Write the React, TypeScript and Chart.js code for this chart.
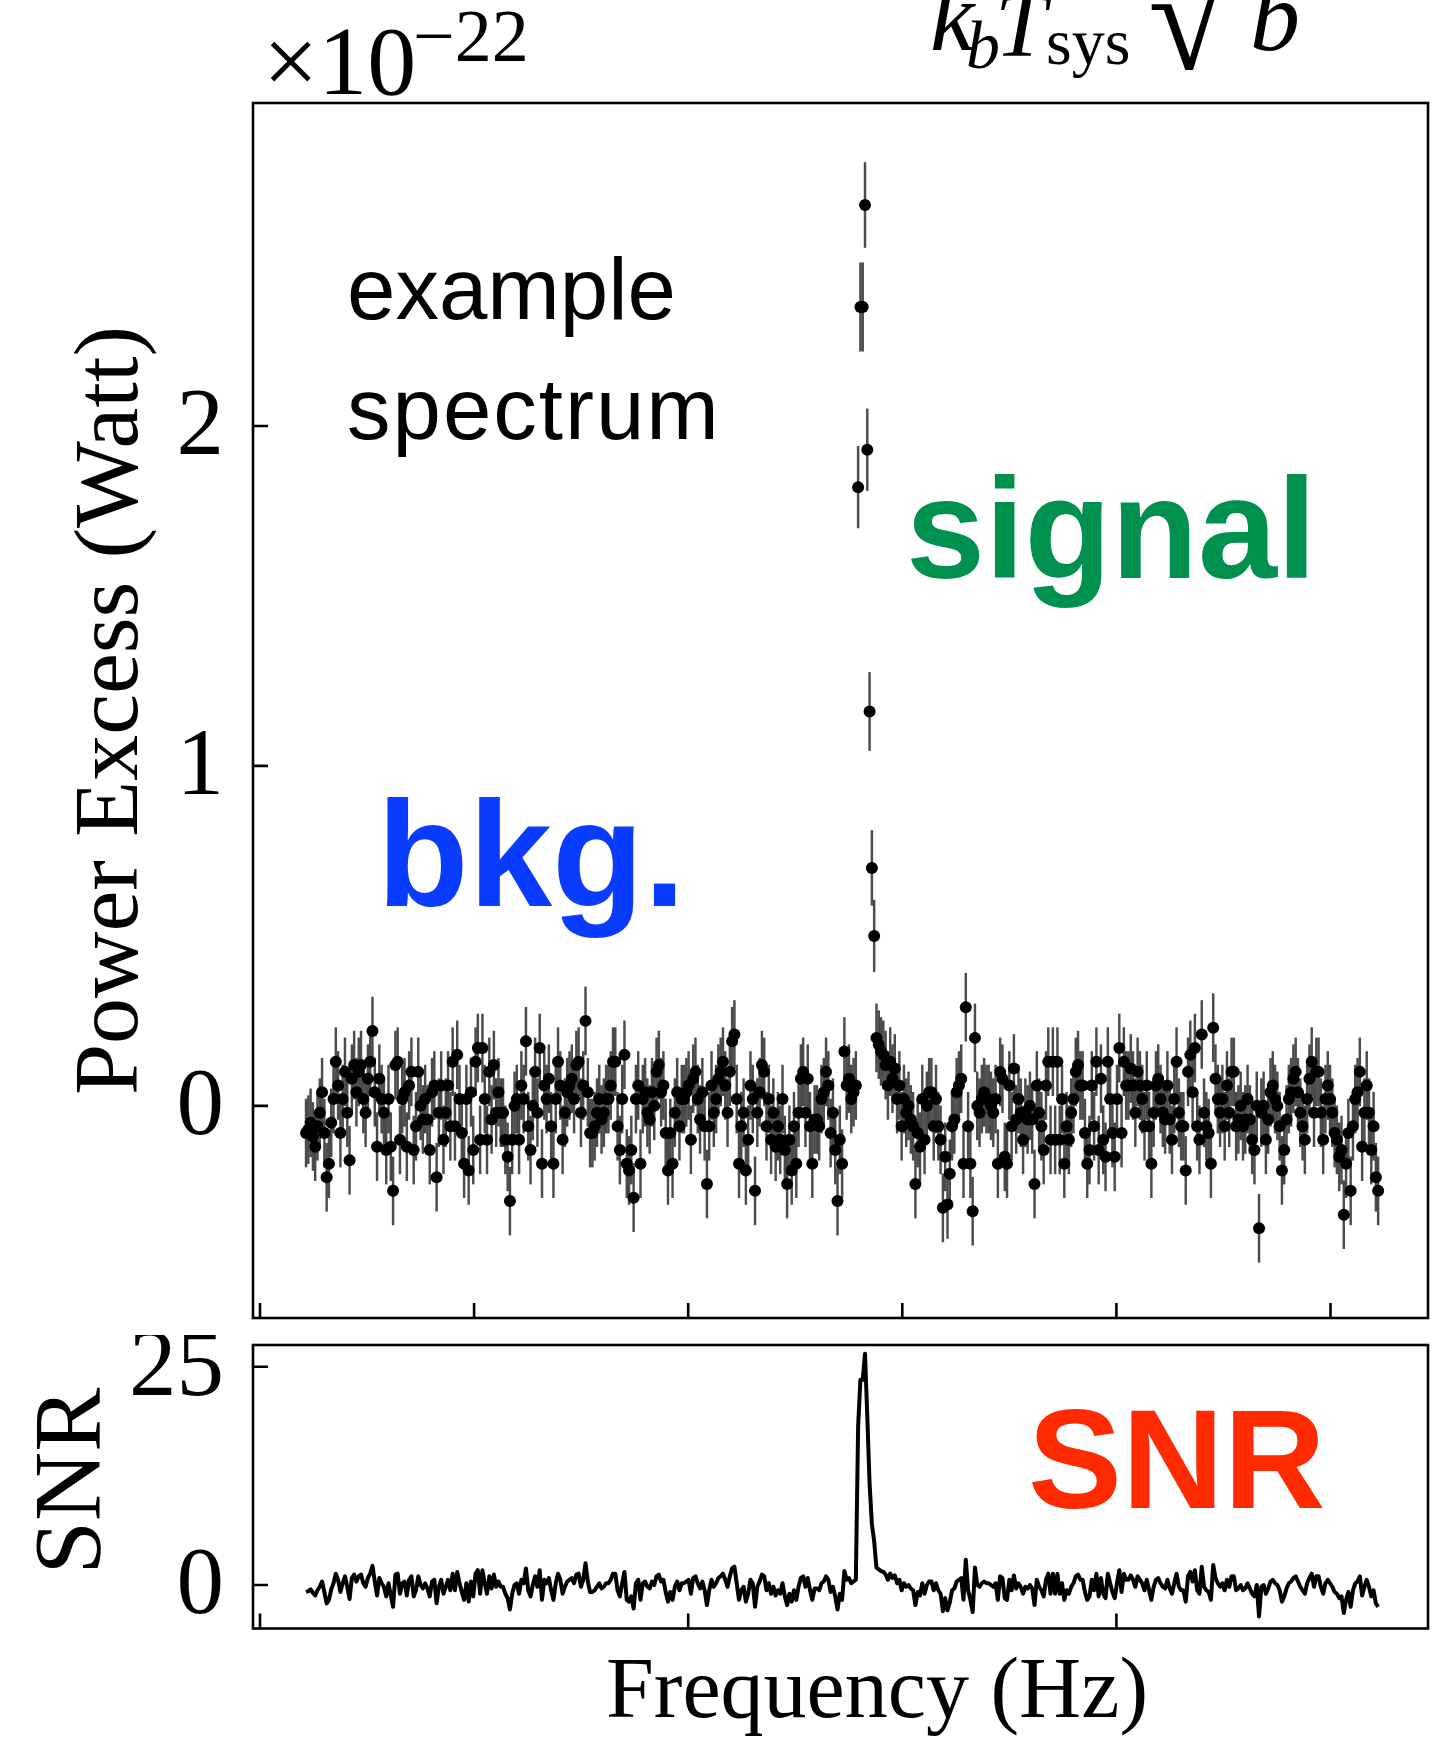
import React, { useEffect, useRef } from "react";
import { Chart, registerables } from "chart.js";

Chart.register(...registerables);

// ---------- data ----------
const xTickValues = [0, 1, 2, 3, 4, 5];
const snrXTickValues = [0, 2, 4];
const powerYTicks = [0, 1, 2];
const snrYTicks = [0, 25];

const freqStart = 0.215;
const freqStep = 0.0107;

const bkgBeforeSignal = [
  -0.08, -0.07, -0.05, -0.09, -0.12, -0.06, -0.02, 0.04, -0.08, -0.21,
  -0.17, -0.05, 0.02, 0.13, 0.06, -0.08, 0.02, 0.10, -0.02, -0.16,
  0.08, 0.12, 0.04, 0.10, 0.12, 0.02, -0.02, 0.08, 0.13, 0.22,
  0.04, -0.12, 0.08, 0.02, -0.02, -0.13, 0.02, -0.12, -0.25, 0.12,
  0.13, -0.10, 0.02, 0.04, -0.12, 0.06, 0.10, -0.13, -0.06, 0.10,
  0.00, -0.04, 0.02, -0.04, -0.13, 0.04, 0.06, -0.21, -0.02, 0.06,
  -0.10, -0.02, 0.06, -0.06, 0.13, -0.06, 0.15,
  0.02, -0.08, -0.17, 0.02, -0.19, 0.04, -0.13, 0.13, 0.17, -0.10,
  0.17, 0.02, -0.10, 0.10, -0.04, 0.12, -0.02, 0.04, -0.02, -0.02,
  -0.10, -0.15, -0.28, -0.10, 0.00, 0.02, -0.10, 0.06, 0.02, 0.19,
  -0.06, -0.13, 0.00, 0.10, -0.02, 0.17, -0.17, 0.06, 0.02, 0.08,
  -0.06, -0.17, 0.02, 0.13, 0.06, -0.10, -0.02, 0.04, 0.06, 0.08,
  0.02, 0.12, 0.13, -0.02, 0.06, 0.25, 0.04, -0.08, -0.08, -0.06,
  -0.02, 0.02, -0.04, -0.02, 0.02, 0.02, 0.06, 0.13,
  0.13, -0.06, -0.13, 0.02, 0.15, -0.17, -0.19, -0.13, -0.27, 0.02,
  0.06, -0.17, 0.02, 0.04, -0.02, -0.04, 0.04, 0.00, 0.10, 0.12,
  0.04, 0.06, -0.08, -0.19, -0.08, -0.17, -0.02, 0.04, -0.06, 0.02,
  0.02, 0.04, 0.06, -0.10, 0.08, 0.10, 0.02, -0.04, 0.04, -0.06,
  -0.23, -0.06, 0.06, -0.02, 0.02, 0.08, 0.10, 0.13, 0.06, -0.02,
  0.10, 0.19, 0.21, 0.02, -0.17, -0.06, -0.02, -0.19, -0.10, 0.06,
  0.02, -0.25, -0.02, 0.04, 0.12, 0.10, -0.06, 0.02,
  -0.10, -0.02, -0.12, -0.06, -0.10, 0.02, -0.13, -0.23, -0.10, -0.19,
  -0.06, -0.17, -0.02, 0.08, 0.10, -0.02, 0.08, -0.06, -0.17, -0.04,
  -0.04, -0.06, 0.02, 0.04, 0.10, 0.06, -0.08, -0.02, -0.13, -0.28,
  -0.10, -0.17, 0.16, 0.06, 0.08, 0.02, 0.04, 0.06,
];

const signalPeak = [1.82, 2.35, 2.35, 2.65, 1.93, 1.16, 0.7, 0.5];

const bkgAfterSignal = [
  0.20, 0.18, 0.16, 0.15, 0.12, 0.06, 0.13, 0.08, 0.11, 0.02,
  0.06, -0.06, 0.02, -0.02, 0.00, -0.04, -0.06, -0.23, -0.08, -0.12,
  0.02, -0.10,
  0.00, 0.04, 0.04, -0.06, 0.02, -0.06, -0.10, -0.30, -0.15, -0.29,
  -0.20, -0.06, -0.04, 0.04, 0.06, 0.08, -0.17, 0.29, -0.06, -0.17,
  -0.31, 0.20, 0.00, -0.02, 0.02, 0.04, 0.02, 0.02, 0.00, -0.02,
  0.02, -0.17, 0.10, 0.08, -0.15, -0.17, 0.06, -0.06, 0.11, -0.04,
  0.02, -0.02, -0.10, -0.02, -0.04, 0.00, -0.04, -0.23, 0.06, -0.02,
  -0.06, -0.13, 0.06, 0.13, -0.10, 0.13, -0.10, 0.13, -0.10, 0.02,
  -0.17, -0.06, -0.10, -0.02, 0.02, 0.10, 0.12, 0.06,
  0.06, -0.08, -0.17, -0.13, 0.06, -0.06, 0.13, -0.13, 0.08, -0.10,
  -0.15, 0.13, 0.02, -0.08, -0.15, 0.02, 0.17, -0.08, 0.13, 0.06,
  0.06, 0.11, 0.06, -0.02, 0.10, 0.06, 0.02, -0.06, 0.06, -0.06,
  -0.17, -0.02, 0.06, 0.08, 0.02, -0.02, -0.04, 0.06, -0.04, -0.10,
  0.02, 0.13, -0.02, -0.06, -0.06, -0.19, 0.10, 0.15, 0.04, 0.17,
  -0.06, -0.10, 0.21, -0.02, -0.06, -0.08, -0.17, 0.23, 0.08, 0.02,
  -0.02, 0.02, -0.06, 0.06, -0.02, 0.10, 0.10,
  -0.06, -0.04, 0.00, -0.06, -0.04, 0.02, -0.04, -0.10, -0.13, 0.00,
  -0.36, -0.02, 0.00, -0.10, -0.04, 0.04, 0.06, 0.02, 0.00, -0.06,
  -0.19, -0.13, -0.04, 0.02, 0.04, 0.08, 0.10, 0.04, -0.02, -0.06,
  -0.10, 0.02, 0.08, 0.13, -0.02, 0.10, 0.10, -0.02, -0.10, 0.02,
  0.06, 0.02, -0.02, -0.08, -0.10, -0.15, -0.13, -0.32, -0.17, -0.08,
  -0.25, -0.06, 0.02, 0.04, 0.10, -0.12, -0.02, 0.06, -0.02, -0.13,
  -0.06, -0.21, -0.25,
];

const bkgSigma = 0.1;
const signalSigma = [0.12, 0.13, 0.13, 0.125, 0.12, 0.115, 0.11, 0.105];
const noiseSigma = 0.1; // k_b T_sys sqrt(b), in units of 1e-22 W

const power = [...bkgBeforeSignal, ...signalPeak, ...bkgAfterSignal];
const nBefore = bkgBeforeSignal.length;
const powerErr = power.map((_, i) =>
  i >= nBefore && i < nBefore + signalPeak.length ? signalSigma[i - nBefore] : bkgSigma
);
const freq = power.map((_, i) => freqStart + i * freqStep);
const snr = power.map((p) => p / noiseSigma);

// ---------- layout ----------
const W = 1434;
const TOP_H = 1335;
const BOT_H = 408;
const SERIF = '"Liberation Serif", "DejaVu Serif", serif';
const SANS = '"Liberation Sans", Arial, sans-serif';
const DOT_R = 6;

function frameTicksPlugin(xTicks: number[], yTicks: number[], extra: (ctx: CanvasRenderingContext2D, chart: any) => void) {
  return {
    id: "mplFrame",
    afterDraw(chart: any) {
      const { ctx, chartArea: a, scales } = chart;
      const xs = scales.x;
      const ys = scales.y;
      ctx.save();
      ctx.strokeStyle = "#000";
      ctx.lineWidth = 2.6;
      ctx.beginPath();
      for (const v of xTicks) {
        const px = xs.getPixelForValue(v);
        ctx.moveTo(px, a.bottom);
        ctx.lineTo(px, a.bottom - 15);
      }
      for (const v of yTicks) {
        const py = ys.getPixelForValue(v);
        ctx.moveTo(a.left, py);
        ctx.lineTo(a.left + 15, py);
      }
      ctx.stroke();
      ctx.strokeRect(a.left, a.top, a.right - a.left, a.bottom - a.top);
      ctx.fillStyle = "#000";
      ctx.font = `95px ${SERIF}`;
      ctx.textAlign = "right";
      ctx.textBaseline = "middle";
      for (const v of yTicks) {
        ctx.fillText(String(v), a.left - 29, ys.getPixelForValue(v) + 3);
      }
      extra(ctx, chart);
      ctx.restore();
    },
  };
}

function drawTopText(ctx: CanvasRenderingContext2D) {
  ctx.fillStyle = "#000";
  ctx.textAlign = "left";
  ctx.textBaseline = "alphabetic";
  ctx.font = `98px ${SERIF}`;
  ctx.fillText("×10", 263, 94);
  ctx.font = `74px ${SERIF}`;
  ctx.fillText("−22", 413, 61);

  ctx.font = `italic 100px ${SERIF}`;
  ctx.fillText("k", 930, 50);
  ctx.font = `italic 68px ${SERIF}`;
  ctx.fillText("b", 966, 68);
  ctx.font = `italic 92px ${SERIF}`;
  ctx.fillText("T", 995, 56);
  ctx.font = `66px ${SERIF}`;
  ctx.fillText("sys", 1046, 64);
  ctx.font = `148px ${SERIF}`;
  ctx.fillText("√", 1148, 69);
  ctx.font = `italic 100px ${SERIF}`;
  ctx.fillText("b", 1250, 50);

  ctx.save();
  ctx.translate(113, 710.5);
  ctx.rotate(-Math.PI / 2);
  ctx.textAlign = "center";
  ctx.textBaseline = "middle";
  ctx.font = `92px ${SERIF}`;
  ctx.fillText("Power Excess (Watt)", 0, 0);
  ctx.restore();

  ctx.textAlign = "left";
  ctx.textBaseline = "alphabetic";
  ctx.font = `87px ${SANS}`;
  ctx.fillText("example", 347, 319);
  (ctx as any).letterSpacing = "2px";
  ctx.fillText("spectrum", 347, 439);
  (ctx as any).letterSpacing = "0px";

  ctx.font = `bold 150px ${SANS}`;
  ctx.fillStyle = "#0a3cff";
  ctx.fillText("bkg.", 377, 906);
  ctx.font = `bold 142px ${SANS}`;
  ctx.fillStyle = "#00914f";
  ctx.fillText("signal", 906, 578);
}

function drawBottomText(ctx: CanvasRenderingContext2D) {
  ctx.fillStyle = "#000";
  ctx.save();
  ctx.translate(75, 146);
  ctx.rotate(-Math.PI / 2);
  ctx.textAlign = "center";
  ctx.textBaseline = "middle";
  ctx.font = `96px ${SERIF}`;
  ctx.fillText("SNR", 0, 0);
  ctx.restore();

  ctx.textAlign = "center";
  ctx.textBaseline = "alphabetic";
  ctx.font = `86px ${SERIF}`;
  ctx.fillText("Frequency (Hz)", 877, 382);

  ctx.textAlign = "left";
  ctx.font = `bold 141px ${SANS}`;
  ctx.fillStyle = "#ff2a00";
  ctx.fillText("SNR", 1028, 173);
}

const xMin = -0.0327;
const xMax = 5.4554;

export default function App() {
  const topRef = useRef<HTMLCanvasElement | null>(null);
  const botRef = useRef<HTMLCanvasElement | null>(null);

  useEffect(() => {
    if (!topRef.current || !botRef.current) return;

    const top = new Chart(topRef.current, {
      type: "scatter",
      data: {
        datasets: [
          {
            type: "scatter",
            order: 0,
            data: power.map((p, i) => ({ x: freq[i], y: p })),
            pointRadius: DOT_R,
            pointStyle: "circle",
            pointBackgroundColor: "#000",
            pointBorderColor: "#000",
            pointBorderWidth: 0,
            backgroundColor: "#000",
            borderColor: "#000",
          } as any,
          {
            type: "bar",
            order: 1,
            data: power.map((p, i) => ({ x: freq[i], y: [p - powerErr[i], p + powerErr[i]] })),
            barThickness: 1.8,
            grouped: false,
            backgroundColor: "rgba(25,25,25,0.78)",
            borderWidth: 0,
          } as any,
        ],
      },
      options: {
        responsive: false,
        animation: false,
        devicePixelRatio: 1,
        events: [],
        elements: { point: { radius: DOT_R, borderWidth: 0, backgroundColor: "#000" } },
        layout: { padding: { left: 253, top: 103, right: 6, bottom: TOP_H - 1318 } },
        scales: {
          x: { type: "linear", display: false, min: xMin, max: xMax, offset: false },
          y: { type: "linear", display: false, min: -0.624, max: 2.95 },
        },
        plugins: { legend: { display: false }, tooltip: { enabled: false } },
      },
      plugins: [frameTicksPlugin(xTickValues, powerYTicks, (ctx) => drawTopText(ctx))],
    } as any);

    const bot = new Chart(botRef.current, {
      type: "line",
      data: {
        datasets: [
          {
            data: snr.map((s, i) => ({ x: freq[i], y: s })),
            borderColor: "#000",
            borderWidth: 4,
            borderJoinStyle: "round",
            pointRadius: 0,
            tension: 0,
            fill: false,
          },
        ],
      },
      options: {
        responsive: false,
        animation: false,
        devicePixelRatio: 1,
        events: [],
        layout: { padding: { left: 253, top: 1345 - TOP_H, right: 6, bottom: BOT_H - (1628.5 - TOP_H) } },
        scales: {
          x: { type: "linear", display: false, min: xMin, max: xMax },
          y: { type: "linear", display: false, min: -4.98, max: 27.49 },
        },
        plugins: { legend: { display: false }, tooltip: { enabled: false } },
      },
      plugins: [frameTicksPlugin(snrXTickValues, snrYTicks, (ctx) => drawBottomText(ctx))],
    } as any);

    return () => {
      top.destroy();
      bot.destroy();
    };
  }, []);

  return (
    <div style={{ position: "absolute", left: 0, top: 0, width: W, height: TOP_H + BOT_H, background: "#fff" }}>
      <canvas ref={topRef} width={W} height={TOP_H} style={{ display: "block", width: W, height: TOP_H }} />
      <canvas ref={botRef} width={W} height={BOT_H} style={{ display: "block", width: W, height: BOT_H }} />
    </div>
  );
}
